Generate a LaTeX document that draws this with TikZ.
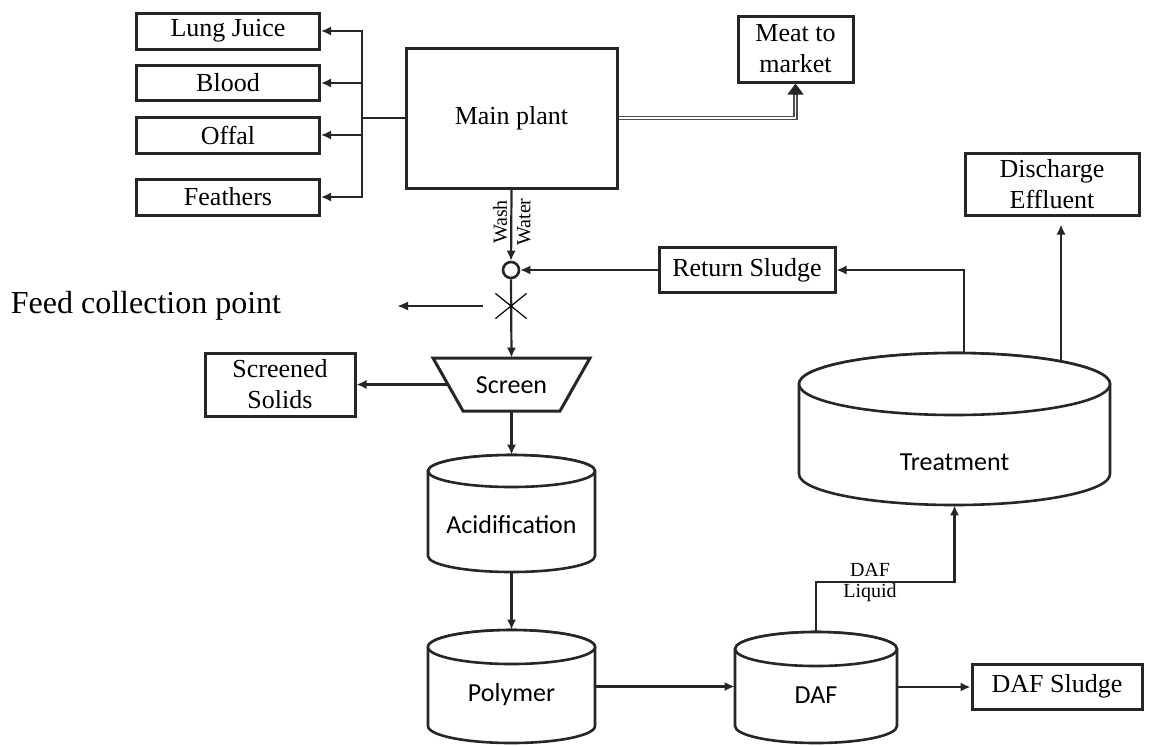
\documentclass[tikz,border=0pt]{standalone}
\usepackage{fontspec}
\setmainfont{Liberation Serif}
\newfontfamily\calib{Carlito}
\usetikzlibrary{arrows.meta,shapes.misc}
\newcommand\cylout[5]{%
  \draw[cyl] (#1-#4,#2+#5) -- (#1-#4,#3-#5)
    arc[start angle=180,end angle=0,x radius=#4,y radius=#5]
    -- (#1+#4,#2+#5)
    arc[start angle=0,end angle=-180,x radius=#4,y radius=#5] -- cycle;
  \draw[cyl] (#1,#2+#5) ellipse [x radius=#4, y radius=#5];}
\begin{document}
\begin{tikzpicture}[x=0.5pt,y=-0.5pt,
  box/.style={draw=black!85,line width=1.5pt,fill=white,inner sep=0pt,align=center,
    font=\fontsize{13}{15.5}\selectfont},
  conn/.style={draw=black!85,line width=1.1pt},
  arr/.style={conn,-{Latex[length=5pt,width=4.6pt]}},
  cyl/.style={draw=black!85,line width=1.3pt,fill=white},
  slbl/.style={font=\calib\fontsize{13}{15}\selectfont,inner sep=0pt},
  small/.style={font=\fontsize{10}{12}\selectfont,inner sep=0pt},
  hidden/.style={inner sep=0pt,draw=none},
  dbl/.style={draw=black!70,line width=0.7pt,double=white,double distance=0.8pt}
]
\useasboundingbox (0,0) rectangle (1159,745);

% left boxes
\node[box,minimum width=91.5pt,minimum height=18pt] (lj) at (228,31) {Lung Juice};
\node[box,minimum width=91.5pt,minimum height=17.5pt] (bl) at (228,83) {Blood};
\node[box,minimum width=91.5pt,minimum height=18pt] (of) at (228,135) {Offal};
\node[box,minimum width=91.5pt,minimum height=18pt] (fe) at (228,197) {Feathers};

% main plant
\node[box,minimum width=105.5pt,minimum height=70pt] (main) at (511.5,118) {Main plant};
\node[box,minimum width=57.5pt,minimum height=33pt] (meat) at (795.5,49) {Meat to\\market};

% other boxes
\node[box,minimum width=88pt,minimum height=22.5pt] (ret) at (747,270) {Return Sludge};
\node[box,minimum width=75pt,minimum height=31.5pt] (ss) at (280,384.5) {Screened\\Solids};
\node[box,minimum width=87pt,minimum height=31pt] (dis) at (1052,184) {Discharge\\Effluent};
\node[box,minimum width=85pt,minimum height=22.5pt] (dafs) at (1057,686.5) {DAF Sludge};

% screen
\draw[box] (433,358) -- (590,358) -- (560,411) -- (463,411) -- cycle;
\node[hidden,minimum width=78.5pt,minimum height=26.5pt] (screen) at (511.5,384.5) {};
\node[slbl] (screenT) at (511.5,385) {Screen};

% cylinders
\cylout{511.5}{455}{572}{83.5}{16}
\node[hidden,minimum width=83.5pt,minimum height=58.5pt] (acid) at (511.5,513.5) {};
\node[slbl] (acidT) at (511.5,525) {Acidification};
\cylout{511.5}{630}{743}{83.5}{17}
\node[hidden,minimum width=83.5pt,minimum height=56.5pt] (poly) at (511.5,686.5) {};
\node[slbl] (polyT) at (511.5,695) {Polymer};
\cylout{816}{632}{743}{81}{17}
\node[hidden,minimum width=81pt,minimum height=55.5pt] (daf) at (816,687) {};
\node[slbl] (dafT) at (816,695) {DAF};
\cylout{954.5}{353}{505}{155.5}{31}
\node[hidden,minimum width=155.5pt,minimum height=76pt] (treat) at (954.5,429) {};
\node[slbl] (treatT) at (954.5,462) {Treatment};

% left bus
\coordinate (bus) at (362,118);
\draw[conn] (main.west) -- (bus);
\foreach \b in {lj,bl,of,fe} \draw[arr] (bus) |- (\b.east);

% meat to market
\draw[dbl] (main.east) -| ([yshift=-5pt]meat.south);
\draw[draw=black!85,line width=0.6pt,-{Triangle[length=5.5pt,width=8pt]}] ([yshift=-5.5pt]meat.south) -- (meat.south);

% wash water
\node[draw=black!85,line width=1.3pt,circle,minimum size=8pt,inner sep=0pt] (circ) at (511,270) {};
\draw[arr] (main.south) -- (circ);
\node[small,rotate=90] (wash) at (500,222) {Wash};
\node[small,rotate=90] (water) at (524,222) {Water};
\draw[arr] (ret.west) -- (circ.east);
\draw[arr] (circ.south) -- (screen.north);
\node[cross out,draw=black,line width=0.6pt,minimum width=15pt,minimum height=12pt,inner sep=0pt] (xm) at (511,306) {};
\node[inner sep=0pt,font=\fontsize{16}{18}\selectfont] (feed) at (146,306) {Feed collection point};
\coordinate (fcp) at (397,306);
\draw[conn,-{Latex[length=5.5pt,width=4.6pt]}] ([xshift=-6pt]xm.west) -- (fcp);

% screen outputs
\coordinate (scrL) at (447,384.5);
\draw[arr] (scrL) -- (ss.east);
\draw[arr] (screen.south) -- (acid.north);
\draw[arr] (acid.south) -- (poly.north);
\draw[arr] (poly.east) -- (poly.east -| daf.west);
\draw[arr] (daf.east) -- (daf.east -| dafs.west);

% DAF liquid
\draw[arr] (daf.north) -- ++(0,-49) -| (treat.south);
\node[small] (dafl1) at (870,570) {DAF};
\node[small] (dafl2) at (870,593) {Liquid};

% treatment outputs
\coordinate (tr1) at (964,353);
\coordinate (tr2) at (1061,361);
\draw[arr] (tr1) |- (ret.east);
\draw[arr] (tr2) -- ([yshift=-4pt]dis.south -| tr2);
\end{tikzpicture}
\end{document}
